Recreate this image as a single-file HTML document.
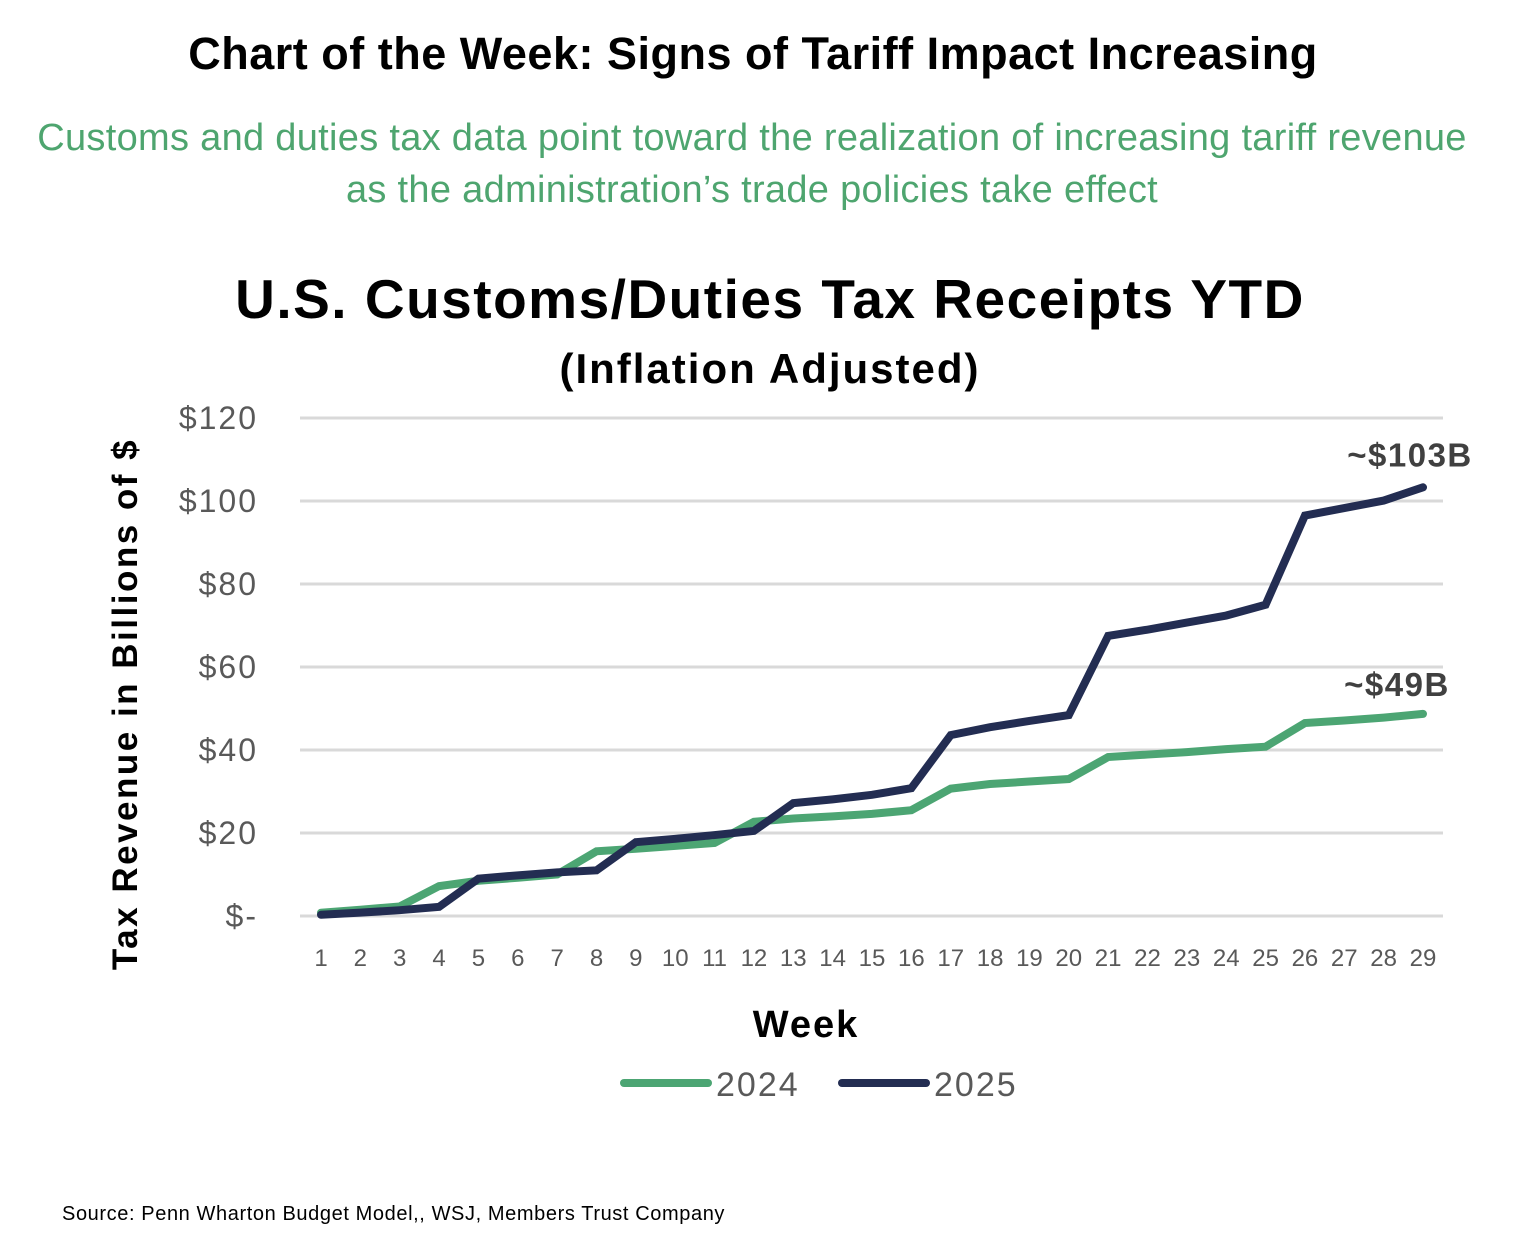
<!DOCTYPE html>
<html><head><meta charset="utf-8"><style>
body{margin:0;width:1538px;height:1240px;background:#fff;font-family:"Liberation Sans",sans-serif;position:relative;overflow:hidden}
.t{position:absolute;white-space:nowrap}
</style></head><body>
<div class="t" style="left:0;width:1506px;text-align:center;top:28px;font-size:45px;font-weight:bold;color:#000;letter-spacing:0.5px">Chart of the Week: Signs of Tariff Impact Increasing</div>
<div class="t" style="left:0;width:1504px;text-align:center;top:112px;font-size:38px;line-height:52px;color:#4ea56f;letter-spacing:0.3px">Customs and duties tax data point toward the realization of increasing tariff revenue<br>as the administration’s trade policies take effect</div>
<svg width="1538" height="1240" style="position:absolute;left:0;top:0">
<g id="g"></g>
</svg>
<div class="t" style="left:62px;top:1203px;font-size:20px;color:#000;letter-spacing:0.6px">Source: Penn Wharton Budget Model,, WSJ, Members Trust Company</div>
<script>
const weeks=[1,2,3,4,5,6,7,8,9,10,11,12,13,14,15,16,17,18,19,20,21,22,23,24,25,26,27,28,29];
const s2024=[0.8,1.5,2.3,7.2,8.5,9.2,10,15.6,16.2,16.9,17.6,22.7,23.5,24,24.6,25.5,30.7,31.8,32.4,33,38.3,38.9,39.5,40.2,40.8,46.5,47.1,47.8,48.7];
const s2025=[0.3,0.8,1.4,2.2,9,9.8,10.5,11,17.8,18.6,19.5,20.5,27.2,28.1,29.2,30.8,43.6,45.5,47,48.4,67.5,69,70.7,72.4,75,96.5,98.3,100.1,103.3];
const yTicks=[0,20,40,60,80,100,120];
const yTickLabels=["$-","$20","$40","$60","$80","$100","$120"];
const NS="http://www.w3.org/2000/svg",g=document.getElementById('g');
const X=w=>321+(w-1)*(1423-321)/28, Y=v=>916-v*(916-418)/120;
function mk(t,a,txt){const e=document.createElementNS(NS,t);for(const k in a)e.setAttribute(k,a[k]);if(txt!=null)e.textContent=txt;g.appendChild(e);return e;}
let e;
e=mk('text',{x:770,y:318,'text-anchor':'middle','font-size':55,'font-weight':'bold',fill:'#000','letter-spacing':1.5},'U.S. Customs/Duties Tax Receipts YTD');


e=mk('text',{x:770,y:383,'text-anchor':'middle','font-size':42,'font-weight':'bold',fill:'#000','letter-spacing':2},'(Inflation Adjusted)');


yTicks.forEach((v,i)=>{
 e=mk('line',{x1:300,x2:1443,y1:Y(v),y2:Y(v),stroke:'#d9d9d9','stroke-width':3});
 
 
 e=mk('text',{x:258,y:Y(v)+11,'text-anchor':'end','font-size':32,fill:'#595959','letter-spacing':2},yTickLabels[i]);
 
 
});
weeks.forEach(w=>{
 e=mk('text',{x:X(w),y:966,'text-anchor':'middle','font-size':24,fill:'#595959'},w);
 
 
});
e=mk('text',{x:0,y:0,transform:'translate(137,704) rotate(-90)','text-anchor':'middle','font-size':35,'font-weight':'bold',fill:'#000','letter-spacing':2.5},'Tax Revenue in Billions of $');


e=mk('text',{x:806,y:1037,'text-anchor':'middle','font-size':38,'font-weight':'bold',fill:'#000','letter-spacing':2},'Week');


function line(d,c,n){const p=d.map((v,i)=>X(weeks[i])+','+Y(v)).join(' ');
 e=mk('polyline',{points:p,fill:'none',stroke:c,'stroke-width':8,'stroke-linejoin':'miter','stroke-linecap':'round'});
 
 }
line(s2024,'#4ca573','line-2024');
line(s2025,'#232d52','line-2025');
e=mk('text',{x:1410,y:Y(s2025[28])-21,'text-anchor':'middle','font-size':33,'font-weight':'bold',fill:'#404040','letter-spacing':1.5},'~$103B');


e=mk('text',{x:1397,y:Y(s2024[28])-18,'text-anchor':'middle','font-size':33,'font-weight':'bold',fill:'#404040','letter-spacing':1.5},'~$49B');


e=mk('line',{x1:624,x2:708,y1:1083,y2:1083,stroke:'#4ca573','stroke-width':8,'stroke-linecap':'round'});


e=mk('text',{x:716,y:1096,'font-size':34,fill:'#595959','letter-spacing':2},'2024');


e=mk('line',{x1:842,x2:926,y1:1083,y2:1083,stroke:'#232d52','stroke-width':8,'stroke-linecap':'round'});


e=mk('text',{x:934,y:1096,'font-size':34,fill:'#595959','letter-spacing':2},'2025');


</script>
</body></html>
